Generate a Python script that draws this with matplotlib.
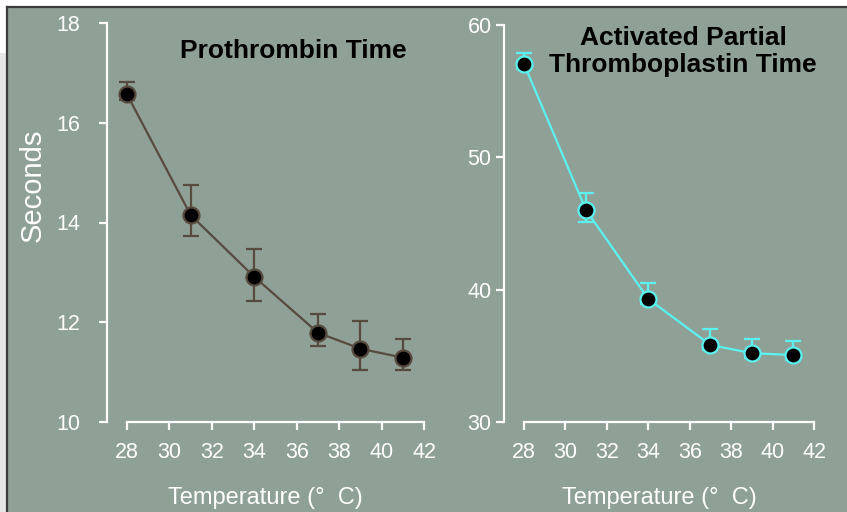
import matplotlib
matplotlib.use("Agg")
import matplotlib.pyplot as plt
from matplotlib.patches import Rectangle
from matplotlib.lines import Line2D

plt.rcParams['font.family'] = ['Liberation Sans', 'DejaVu Sans']

# Measurements at each temperature
temps = [28, 31, 34, 37, 39, 41]

pt_seconds = [16.57, 14.15, 12.91, 11.79, 11.47, 11.29]
pt_err_low = [0.12, 0.43, 0.48, 0.26, 0.42, 0.24]
pt_err_high = [0.25, 0.60, 0.55, 0.37, 0.56, 0.38]

aptt_seconds = [57.05, 46.0, 39.3, 35.82, 35.2, 35.06]
aptt_err_low = [0.4, 0.9, 0.4, 0.4, 0.4, 0.4]
aptt_err_high = [0.86, 1.27, 1.2, 1.2, 1.06, 1.04]

x_ticks = [28, 30, 32, 34, 36, 38, 40, 42]
pt_y_ticks = [10, 12, 14, 16, 18]
aptt_y_ticks = [30, 40, 50, 60]

W, H = 847, 512
fig = plt.figure(figsize=(W / 100, H / 100), dpi=100, facecolor='white')


def fx(px):
    return px / W


def fy(py):
    return 1 - py / H


# slide-style backdrop
fig.patches.append(Rectangle((0, 0), fx(7), fy(53), transform=fig.transFigure,
                             facecolor='#e6e6e6', edgecolor='none', zorder=-3))
fig.patches.append(Rectangle((fx(7), 0), 1 - fx(7), fy(7), transform=fig.transFigure,
                             facecolor='#8fa096', edgecolor='none', zorder=-3))
fig.lines.append(Line2D([fx(7), 1], [fy(7), fy(7)], transform=fig.transFigure,
                        color='#3c3c3c', lw=1.6, zorder=-2))
fig.lines.append(Line2D([fx(7), fx(7)], [0, fy(7)], transform=fig.transFigure,
                        color='#3c3c3c', lw=1.6, zorder=-2))

fg = 'white'
tick_size = 15.5


def style_axes(ax, ybounds, ypad):
    ax.set_facecolor('none')
    for s in ('top', 'right'):
        ax.spines[s].set_visible(False)
    for s in ('left', 'bottom'):
        ax.spines[s].set_color(fg)
        ax.spines[s].set_linewidth(1.6)
    ax.spines['left'].set_bounds(*ybounds)
    ax.spines['bottom'].set_bounds(28, 42)
    ax.set_xticks(x_ticks)
    ax.tick_params(axis='both', direction='out', length=6, width=1.6,
                   color=fg, labelcolor=fg, labelsize=tick_size)
    ax.tick_params(axis='x', pad=8.5)
    ax.tick_params(axis='y', pad=ypad)
    ax.set_xlabel('Temperature (°  C)', color=fg, fontsize=17, labelpad=17.5)


# Prothrombin time panel
ax1 = fig.add_axes([fx(107), fy(422), fx(424) - fx(107), (422 - 23) / H])
ax1.set_xlim(28 - 20 / ((424 - 127) / 14), 42)
ax1.set_ylim(10, 18)
ax1.set_yticks(pt_y_ticks)
style_axes(ax1, (10, 18), 13.5)
pt_color = '#574a3e'
ax1.errorbar(temps, pt_seconds, yerr=[pt_err_low, pt_err_high], color=pt_color,
             lw=1.6, elinewidth=1.6, capsize=5.5, capthick=1.6, marker='o',
             markersize=11.5, markerfacecolor='black', markeredgecolor=pt_color,
             markeredgewidth=1.6, clip_on=False)
ax1.set_ylabel('Seconds', color=fg, fontsize=21)
ax1.yaxis.set_label_coords((47 - 107) / 317, (422 - 185) / 399)
ax1.text((293 - 107) / 317, (422 - 58) / 399, 'Prothrombin Time', transform=ax1.transAxes,
         ha='center', va='baseline', fontsize=19, fontweight='bold', color='black')

# Activated partial thromboplastin time panel
ax2 = fig.add_axes([fx(504), fy(422), fx(814) - fx(504), (422 - 25) / H])
ax2.set_xlim(28 - 20 / ((814 - 524) / 14), 42)
ax2.set_ylim(30, 60)
ax2.set_yticks(aptt_y_ticks)
style_axes(ax2, (30, 60), 3)
aptt_color = '#5cf2f0'
ax2.errorbar(temps, aptt_seconds, yerr=[aptt_err_low, aptt_err_high], color=aptt_color,
             lw=1.6, elinewidth=1.6, capsize=5.5, capthick=1.6, marker='o',
             markersize=11.5, markerfacecolor='black', markeredgecolor=aptt_color,
             markeredgewidth=1.6, clip_on=False)
ax2.text((683 - 504) / 310, (422 - 72) / 397, 'Activated Partial\nThromboplastin Time',
         transform=ax2.transAxes, ha='center', va='baseline', fontsize=19,
         fontweight='bold', color='black', linespacing=1.15, multialignment='center')

fig.savefig('out.png', dpi=100, facecolor='white')
